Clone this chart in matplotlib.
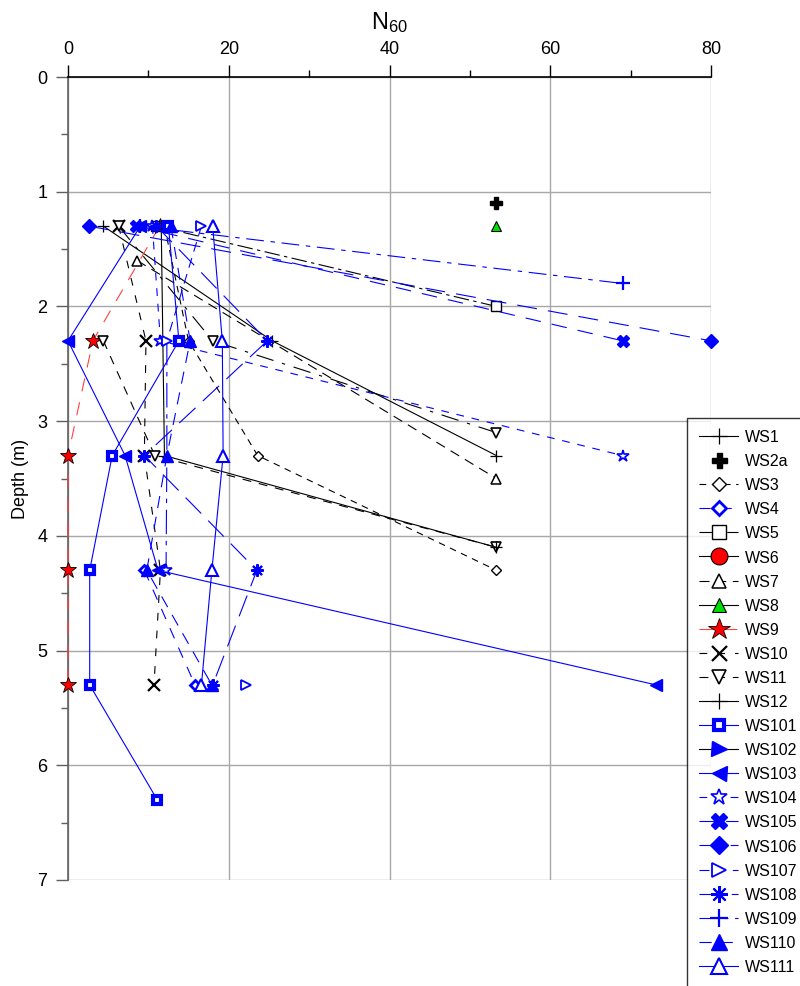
import matplotlib
matplotlib.use("Agg")
import matplotlib.pyplot as plt
import numpy as np

plt.rcParams['font.family'] = ['Liberation Sans', 'DejaVu Sans']
plt.rcParams['mathtext.default'] = 'regular'

nan = np.nan

# borehole readings: depth (m) and N60
ws1_depth = [1.3, 2.3, 3.3]
ws1_n = [4.4, 25.4, 53.3]
ws2a_depth = [1.1]
ws2a_n = [53.3]
ws3_depth = [1.3, 2.3, 3.3, 4.3]
ws3_n = [12.0, 15.0, 23.6, 53.3]
ws4_depth = [4.3, 5.3]
ws4_n = [9.5, 15.8]
ws5_depth = [1.3, 2.0]
ws5_n = [11.0, 53.3]
ws6_depth = []
ws6_n = []
ws7_depth = [1.6, 3.5]
ws7_n = [8.6, 53.3]
ws8_depth = [1.3]
ws8_n = [53.3]
ws9_depth = [1.3, 2.3, 3.3, 4.3, 5.3]
ws9_n = [11.4, 3.1, 0.0, 0.0, 0.0]
ws10_depth = [1.3, 2.3, 3.3, 4.3, 5.3]
ws10_n = [6.3, 9.7, 9.5, 11.5, 10.7]
ws11_depth = [2.3, 3.3, 4.1]
ws11_n = [4.4, 10.8, 53.3]
ws11b_depth = [1.3, 2.3, 3.1]
ws11b_n = [6.3, 18.0, 53.3]
ws12_depth = [1.3, 3.3, 4.1]
ws12_n = [11.6, 12.0, 53.3]
ws101_depth = [1.3, 2.3, 3.3, 4.3, 5.3, 6.3]
ws101_n = [12.5, 13.8, 5.5, 2.7, 2.7, 11.1]
ws102_depth = []
ws102_n = []
ws103_depth = [1.3, 2.3, 3.3, 4.3, 5.3]
ws103_n = [9.0, 0.0, 7.1, 11.2, 73.2]
ws104_depth = [1.3, 2.3, 3.3]
ws104_n = [10.5, 11.5, 69.0]
ws104b_depth = [2.3, 3.3, 4.3]
ws104b_n = [12.3, 12.3, 12.2]
ws105_depth = [1.3, 2.3]
ws105_n = [8.5, 69.0]
ws106_depth = [1.3, 2.3]
ws106_n = [2.6, 80.0]
ws107_depth = [1.3, 2.3, 3.3, 4.3, 5.3]
ws107_n = [16.6, 12.3, nan, nan, 22.2]
ws108_depth = [1.3, 2.3, 3.3, 4.3, 5.3]
ws108_n = [11.0, 24.8, 9.5, 23.5, 18.0]
ws109_depth = [1.3, 1.8]
ws109_n = [9.0, 69.0]
ws110_depth = [1.3, 2.3, 3.3, 4.3, 5.3]
ws110_n = [12.8, 15.2, 12.3, 9.8, 17.9]
ws111_depth = [1.3, 2.3, 3.3, 4.3, 5.3]
ws111_n = [18.0, 19.2, 19.3, 17.9, 16.6]

series = [
    ("WS1", ws1_n, ws1_depth, dict(color="black", ls="-", marker="+", ms=9, mew=0.9)),
    ("WS2a", ws2a_n, ws2a_depth, dict(color="black", ls="none", marker="P", ms=8, mfc="black", mec="black")),
    ("WS3", ws3_n, ws3_depth, dict(color="black", ls=(0, (6, 5)), marker="D", ms=5.5, mfc="white", mec="black", mew=1.0)),
    ("WS4", ws4_n, ws4_depth, dict(color="blue", ls=(0, (10, 9)), marker="D", ms=5, mfc="white", mec="blue", mew=2.0)),
    ("WS5", ws5_n, ws5_depth, dict(color="black", ls=(0, (14, 4, 3, 4)), marker="s", ms=7.5, mfc="white", mec="black", mew=1.0)),
    ("WS6", ws6_n, ws6_depth, dict(color="black", ls="-", marker="o", ms=9, mfc="red", mec="black", mew=0.8)),
    ("WS7", ws7_n, ws7_depth, dict(color="black", ls=(0, (9, 6)), marker="^", ms=7, mfc="white", mec="black", mew=1.1)),
    ("WS8", ws8_n, ws8_depth, dict(color="black", ls="-", marker="^", ms=7, mfc="#00dd00", mec="black", mew=0.8)),
    ("WS9", ws9_n, ws9_depth, dict(color="#ff4040", ls=(0, (12, 10)), marker="*", ms=12, mfc="red", mec="black", mew=0.6)),
    ("WS10", ws10_n, ws10_depth, dict(color="black", ls=(0, (7, 9)), marker="x", ms=8, mew=1.6)),
    ("WS11", ws11_n, ws11_depth, dict(color="black", ls=(0, (8, 7)), marker="v", ms=7.5, mfc="white", mec="black", mew=1.2)),
    ("_ws11b", ws11b_n, ws11b_depth, dict(color="black", ls=(0, (16, 8, 3, 8)), marker="v", ms=7.5, mfc="white", mec="black", mew=1.2)),
    ("WS12", ws12_n, ws12_depth, dict(color="black", ls="-", marker="+", ms=9, mew=0.9)),
    ("WS101", ws101_n, ws101_depth, dict(color="blue", ls="-", marker="s", ms=5.5, mfc="white", mec="blue", mew=3.0)),
    ("WS102", ws102_n, ws102_depth, dict(color="black", ls="-", marker=">", ms=8, mfc="blue", mec="blue")),
    ("WS103", ws103_n, ws103_depth, dict(color="blue", ls="-", marker="<", ms=8, mfc="blue", mec="blue")),
    ("WS104", ws104_n, ws104_depth, dict(color="blue", ls=(0, (7, 7)), marker="*", ms=9, mfc="white", mec="blue", mew=1.2)),
    ("_ws104b", ws104b_n, ws104b_depth, dict(color="blue", ls=(0, (22, 6, 4, 6)), marker="*", ms=9, mfc="white", mec="blue", mew=1.2, markevery=[2])),
    ("WS105", ws105_n, ws105_depth, dict(color="blue", ls=(0, (14, 10)), marker="X", ms=9, mfc="blue", mec="blue")),
    ("WS106", ws106_n, ws106_depth, dict(color="blue", ls=(0, (18, 10)), marker="D", ms=7, mfc="blue", mec="blue")),
    ("WS107", ws107_n, ws107_depth, dict(color="blue", ls=(0, (9, 6)), marker=">", ms=7.5, mfc="white", mec="blue", mew=1.3)),
    ("WS108", ws108_n, ws108_depth, dict(color="blue", ls=(0, (20, 9)), marker=(8, 2, 0), ms=9, mfc="blue", mec="blue", mew=1.5)),
    ("WS109", ws109_n, ws109_depth, dict(color="blue", ls=(0, (16, 6, 4, 6)), marker="+", ms=10, mew=1.6)),
    ("WS110", ws110_n, ws110_depth, dict(color="blue", ls=(0, (11, 8)), marker="^", ms=9, mfc="blue", mec="blue")),
    ("WS111", ws111_n, ws111_depth, dict(color="blue", ls="-", marker="^", ms=9, mfc="white", mec="blue", mew=1.5)),
]

fig = plt.figure(figsize=(8, 9.86), dpi=100)
ax = fig.add_axes([68 / 800, 1 - 880 / 986, (711 - 68) / 800, (880 - 77) / 986])

for name, n, d, st in series:
    ax.plot(n, d, label=name, lw=0.8, clip_on=False, zorder=3, **st)

ax.set_xlim(0, 80)
ax.set_ylim(7, 0)
ax.xaxis.tick_top()
ax.xaxis.set_label_position("top")
ax.set_xticks([0, 20, 40, 60, 80])
ax.set_xticks([10, 30, 50, 70], minor=True)
ax.set_yticks(range(8))
ax.set_yticks(np.arange(0.5, 7, 1), minor=True)
ax.grid(True, which="major", color="#a8a8a8", lw=1.0, zorder=0)

for side in ["right", "bottom"]:
    ax.spines[side].set_visible(False)
ax.spines["top"].set_color("black")
ax.spines["top"].set_linewidth(1.2)
ax.spines["left"].set_color("#606060")
ax.spines["left"].set_linewidth(1.2)

ax.tick_params(axis="x", which="major", length=9, width=1, top=True, bottom=False, labelsize=13, pad=5)
ax.tick_params(axis="x", which="minor", length=5, width=1, top=True, bottom=False)
ax.tick_params(axis="y", which="major", length=9, width=1, labelsize=13, pad=6, color="#606060")
ax.tick_params(axis="y", which="minor", length=5, width=1, color="#606060")

ax.set_xlabel("N$_{60}$", fontsize=17, labelpad=8)
ax.set_ylabel("Depth (m)", fontsize=13, labelpad=6)

leg = fig.legend(loc="upper left", bbox_to_anchor=(687 / 800, 1 - 418 / 986), borderaxespad=0,
                 frameon=True, fancybox=False, edgecolor="black", fontsize=11.5,
                 handlelength=2.45, handletextpad=0.4, labelspacing=0.56, borderpad=0.75,
                 handleheight=0.9)
leg.get_frame().set_linewidth(1.0)
# legend symbols are drawn larger than the ones on the plot
for h in leg.legend_handles:
    h.set_markersize(h.get_markersize() * 1.35)

fig.savefig("out.png", dpi=100)
